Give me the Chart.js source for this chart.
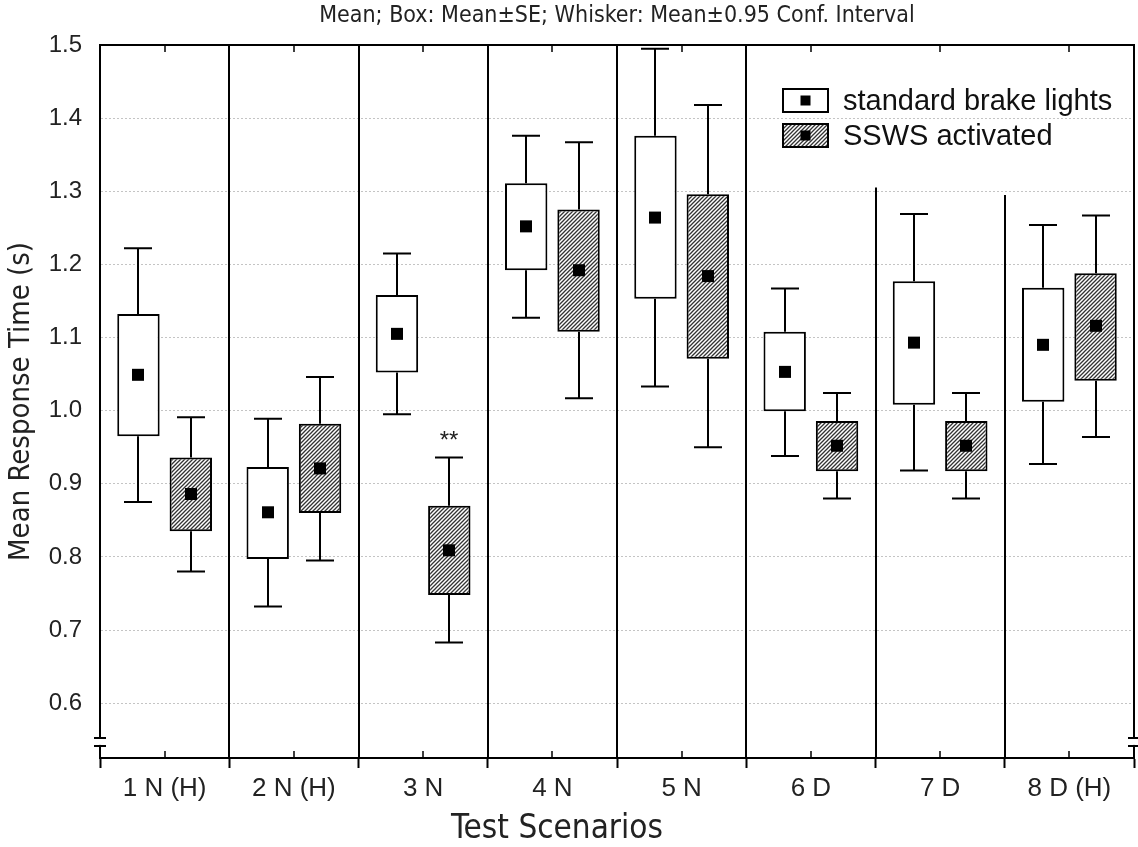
<!DOCTYPE html>
<html lang="en">
<head>
<meta charset="UTF-8">
<title>Mean Response Time by Test Scenario</title>
<script src="https://cdn.jsdelivr.net/npm/chart.js"></script>
<style>
  body { margin: 0; background: #fff; }
  #wrap { width: 1138px; height: 847px; }
</style>
</head>
<body>
<div id="wrap"><canvas id="rtChart" width="1138" height="847"></canvas></div>
<script>
// categories and tick labels
const scenarios = ["1 N (H)", "2 N (H)", "3 N", "4 N", "5 N", "6 D", "7 D", "8 D (H)"];
const yTicks = [0.6, 0.7, 0.8, 0.9, 1.0, 1.1, 1.2, 1.3, 1.4, 1.5];

// standard brake lights: mean, mean +/- SE, mean +/- 0.95 CI
const stdMean   = [1.049, 0.861, 1.105, 1.252, 1.264, 1.053, 1.093, 1.090];
const stdSeLow  = [0.965, 0.797, 1.052, 1.192, 1.153, 0.999, 1.008, 1.012];
const stdSeHigh = [1.132, 0.923, 1.158, 1.311, 1.376, 1.108, 1.177, 1.168];
const stdCiLow  = [0.875, 0.732, 0.995, 1.127, 1.033, 0.938, 0.918, 0.927];
const stdCiHigh = [1.222, 0.989, 1.215, 1.376, 1.495, 1.167, 1.269, 1.254];

// SSWS activated
const sswsMean   = [0.886, 0.921, 0.809, 1.192, 1.184, 0.952, 0.952, 1.116];
const sswsSeLow  = [0.835, 0.860, 0.748, 1.108, 1.071, 0.917, 0.917, 1.041];
const sswsSeHigh = [0.936, 0.982, 0.870, 1.275, 1.296, 0.986, 0.986, 1.188];
const sswsCiLow  = [0.780, 0.795, 0.683, 1.017, 0.950, 0.880, 0.880, 0.964];
const sswsCiHigh = [0.991, 1.046, 0.936, 1.367, 1.418, 1.024, 1.024, 1.267];

// significance marks over the SSWS box
const sswsMarks = ["", "", "**", "", "", "", "", ""];

const NARROW = "'Liberation Sans Narrow', 'Arial Narrow', 'DejaVu Sans Condensed', sans-serif";
const SANS = "'Liberation Sans', Arial, sans-serif";

// diagonal hatch for the SSWS boxes
function makeHatch() {
  const c = document.createElement("canvas");
  c.width = 4; c.height = 4;
  const g = c.getContext("2d");
  g.fillStyle = "#fff";
  g.fillRect(0, 0, 4, 4);
  g.strokeStyle = "#333";
  g.lineWidth = 1.3;
  g.beginPath();
  g.moveTo(-1, 5); g.lineTo(5, -1);
  g.moveTo(-1, 1); g.lineTo(1, -1);
  g.moveTo(3, 5); g.lineTo(5, 3);
  g.stroke();
  return g.createPattern(c, "repeat");
}
const hatch = makeHatch();

const stats = [
  { mean: stdMean, lo: stdCiLow, hi: stdCiHigh, marks: null },
  { mean: sswsMean, lo: sswsCiLow, hi: sswsCiHigh, marks: sswsMarks }
];

function drawIcon(ctx, x, y, w, h, fill) {
  ctx.fillStyle = fill;
  ctx.fillRect(x, y, w, h);
  ctx.lineWidth = 2;
  ctx.strokeStyle = "#000";
  ctx.strokeRect(x, y, w, h);
  ctx.fillStyle = "#000";
  ctx.fillRect(x + w / 2 - 5, y + h / 2 - 5, 10, 10);
}

const boxPlot = {
  id: "boxPlot",
  beforeDatasetsDraw(chart) {
    const { ctx, chartArea: a, scales: { x, y } } = chart;
    ctx.save();
    ctx.strokeStyle = "#000";
    ctx.lineWidth = 2;
    // scenario separators (the last two stop below the legend)
    for (let i = 1; i < scenarios.length; i++) {
      const px = Math.round((x.getPixelForValue(i - 1) + x.getPixelForValue(i)) / 2);
      const top = i >= 6 ? y.getPixelForValue(i === 6 ? 1.305 : 1.295) : a.top;
      ctx.beginPath();
      ctx.moveTo(px, top);
      ctx.lineTo(px, a.bottom);
      ctx.stroke();
    }
    // small ticks at category centres, top and bottom
    ctx.lineWidth = 1.5;
    scenarios.forEach((s, i) => {
      const px = Math.round(x.getPixelForValue(i));
      ctx.beginPath();
      ctx.moveTo(px, a.top); ctx.lineTo(px, a.top + 7);
      ctx.moveTo(px, a.bottom); ctx.lineTo(px, a.bottom - 7);
      ctx.stroke();
    });
    ctx.restore();
  },
  afterDatasetsDraw(chart) {
    const { ctx, chartArea: a, scales: { y } } = chart;
    ctx.save();
    ctx.strokeStyle = "#000";
    ctx.fillStyle = "#000";
    ctx.lineWidth = 2;
    stats.forEach((st, d) => {
      const meta = chart.getDatasetMeta(d);
      meta.data.forEach((bar, i) => {
        const cx = Math.round(bar.x);
        const top = Math.min(bar.y, bar.base);
        const bot = Math.max(bar.y, bar.base);
        const yHi = y.getPixelForValue(st.hi[i]);
        const yLo = y.getPixelForValue(st.lo[i]);
        ctx.beginPath();
        ctx.moveTo(cx, top); ctx.lineTo(cx, yHi);
        ctx.moveTo(cx - 14, yHi); ctx.lineTo(cx + 14, yHi);
        ctx.moveTo(cx, bot); ctx.lineTo(cx, yLo);
        ctx.moveTo(cx - 14, yLo); ctx.lineTo(cx + 14, yLo);
        ctx.stroke();
        const ym = y.getPixelForValue(st.mean[i]);
        ctx.fillRect(cx - 6, ym - 6, 12, 12);
        if (st.marks && st.marks[i]) {
          ctx.font = "24px " + SANS;
          ctx.textAlign = "center";
          ctx.textBaseline = "bottom";
          ctx.fillStyle = "#222";
          ctx.fillText(st.marks[i], cx, yHi - 4);
          ctx.fillStyle = "#000";
        }
      });
    });
    // top and right frame
    ctx.beginPath();
    ctx.moveTo(a.left, a.top); ctx.lineTo(a.right, a.top); ctx.lineTo(a.right, a.bottom);
    ctx.stroke();
    // axis break marks
    const yb = y.getPixelForValue(0.547);
    [a.left, a.right].forEach(ax => {
      ctx.fillStyle = "#fff";
      ctx.fillRect(ax - 3, yb - 3, 6, 6);
      ctx.beginPath();
      ctx.moveTo(ax - 6, yb - 4); ctx.lineTo(ax + 6, yb - 4);
      ctx.moveTo(ax - 6, yb + 4); ctx.lineTo(ax + 6, yb + 4);
      ctx.stroke();
    });
    // legend
    const lx = 783, ly = [89, 124];
    chart.data.datasets.forEach((ds, d) => {
      drawIcon(ctx, lx, ly[d], 45, 23, ds.backgroundColor);
      ctx.fillStyle = "#111";
      ctx.font = "29px " + SANS;
      ctx.textAlign = "left";
      ctx.textBaseline = "middle";
      ctx.fillText(ds.label, lx + 60, ly[d] + 13);
    });
    // x axis title, centred under the page rather than the plot
    ctx.fillStyle = "#222";
    ctx.font = "33px " + NARROW;
    ctx.textAlign = "center";
    ctx.textBaseline = "middle";
    ctx.fillText("Test Scenarios", 557, 829);
    ctx.restore();
  }
};

new Chart(document.getElementById("rtChart"), {
  type: "bar",
  data: {
    labels: scenarios,
    datasets: [
      {
        label: "standard brake lights",
        data: stdSeLow.map((v, i) => [v, stdSeHigh[i]]),
        backgroundColor: "#fff",
        borderColor: "#000",
        borderWidth: 2,
        borderSkipped: false
      },
      {
        label: "SSWS activated",
        data: sswsSeLow.map((v, i) => [v, sswsSeHigh[i]]),
        backgroundColor: hatch,
        borderColor: "#000",
        borderWidth: 2,
        borderSkipped: false
      }
    ]
  },
  options: {
    responsive: false,
    animation: false,
    devicePixelRatio: 1,
    categoryPercentage: 0.81,
    barPercentage: 0.81,
    layout: { padding: { left: 0, right: 4, top: 0, bottom: 0 } },
    plugins: {
      legend: { display: false },
      tooltip: { enabled: false },
      title: {
        display: true,
        fullSize: false,
        text: "Mean; Box: Mean\u00b1SE; Whisker: Mean\u00b10.95 Conf. Interval",
        color: "#222",
        font: { family: NARROW, size: 23, weight: "normal", lineHeight: 1 },
        padding: { top: 5, bottom: 17 }
      }
    },
    scales: {
      x: {
        grid: { offset: true, drawOnChartArea: false, tickLength: 10, tickColor: "#000", tickWidth: 2 },
        border: { color: "#000", width: 2 },
        ticks: { color: "#222", font: { family: SANS, size: 26 }, padding: 5, maxRotation: 0 },
        title: { display: false, text: "Test Scenarios" },
        afterFit(s) { s.height = 89; }
      },
      y: {
        min: 0.525,
        max: 1.5,
        afterBuildTicks(s) { s.ticks = yTicks.map(v => ({ value: v })); },
        grid: {
          drawTicks: false,
          color: ctx => (ctx.tick && ctx.tick.value >= 1.5 ? "rgba(0,0,0,0)" : "#c4c4c4"),
          lineWidth: 1
        },
        border: { color: "#000", width: 2, dash: [2, 2] },
        ticks: { color: "#222", font: { family: SANS, size: 24 }, padding: 18, callback: v => v.toFixed(1) },
        title: { display: true, text: "Mean Response Time (s)", color: "#222", font: { family: NARROW, size: 29 }, padding: { bottom: 0 } },
        afterFit(s) { s.width = 100; }
      }
    }
  },
  plugins: [boxPlot]
});
</script>
</body>
</html>
